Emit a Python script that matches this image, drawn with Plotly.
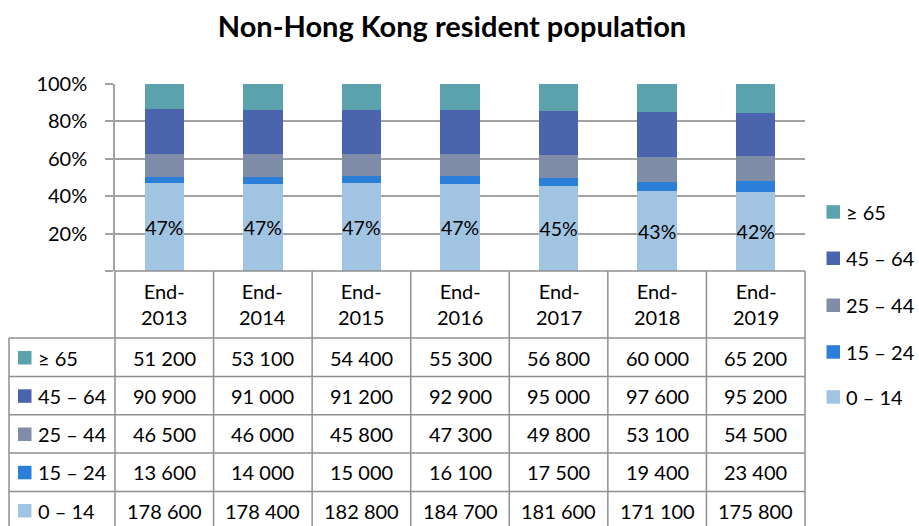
import plotly.graph_objects as go

categories = ["End-2013", "End-2014", "End-2015", "End-2016", "End-2017", "End-2018", "End-2019"]
age_0_14 = [178600, 178400, 182800, 184700, 181600, 171100, 175800]
age_15_24 = [13600, 14000, 15000, 16100, 17500, 19400, 23400]
age_25_44 = [46500, 46000, 45800, 47300, 49800, 53100, 54500]
age_45_64 = [90900, 91000, 91200, 92900, 95000, 97600, 95200]
age_65_up = [51200, 53100, 54400, 55300, 56800, 60000, 65200]

series_names = ["0 – 14", "15 – 24", "25 – 44", "45 – 64", "≥ 65"]
series_values = [age_0_14, age_15_24, age_25_44, age_45_64, age_65_up]
series_colors = ["#A2C4E3", "#2B7FD8", "#7F8DA8", "#4A64AD", "#5BA2AD"]
y_tick_vals = [0, 20, 40, 60, 80, 100]
y_tick_text = ["", "20%", "40%", "60%", "80%", "100%"]

W, H = 919, 526
L, R, T, B = 115, 805, 84, 271
PW, PH = R - L, B - T
FONT = "Lato, Carlito, Calibri, sans-serif"
FS = 20
LINE = "#8f8f8f"


def xp(px):
    return (px - L) / PW


def yp(py):
    return (B - py) / PH


totals = [sum(v[i] for v in series_values) for i in range(len(categories))]

fig = go.Figure()
for name, vals, col in zip(series_names, series_values, series_colors):
    if name == "0 – 14":
        text = [f"{round(v / t * 100):d}%" for v, t in zip(vals, totals)]
    else:
        text = None
    fig.add_trace(go.Bar(
        x=categories, y=vals, name=name, marker=dict(color=col, line=dict(width=0)),
        text=text, textposition="inside" if text else "none", insidetextanchor="middle",
        textangle=0, constraintext="none",
        textfont=dict(family=FONT, size=19.5, color="#000000"),
        showlegend=False, hoverinfo="x+y+name",
    ))

fig.update_layout(
    barmode="stack", barnorm="percent", bargap=0.6,
    width=W, height=H,
    margin=dict(l=L, r=W - R, t=T, b=H - B, pad=0),
    plot_bgcolor="white", paper_bgcolor="white",
    font=dict(family=FONT, size=FS, color="#000000"),
    title=dict(text="<b>Non-Hong Kong resident population</b>", x=452 / W, xanchor="center",
               y=1 - 27 / H, yanchor="middle", font=dict(size=29, family=FONT, color="#000000")),
    xaxis=dict(showticklabels=False, showgrid=False, ticks="", showline=False, zeroline=False,
               range=[-0.5, len(categories) - 0.5]),
    yaxis=dict(range=[0, 100], tickvals=y_tick_vals, ticktext=y_tick_text, showgrid=True,
               gridcolor="#a3a3a3", gridwidth=1.5, ticks="outside", ticklen=8, tickcolor="#a3a3a3",
               tickwidth=1.5, showline=True, linecolor="#a3a3a3", linewidth=1.5, zeroline=False,
               ticklabelstandoff=14, tickfont=dict(size=FS, family=FONT)),
)

shapes = []
annotations = []

# table grid
row_lines = [338, 376.5, 414.8, 453.1, 491.4, 530]
col_lines = [L + i * PW / len(categories) for i in range(len(categories) + 1)]
shapes.append(dict(type="line", xref="paper", yref="paper", x0=0, x1=1, y0=yp(B), y1=yp(B),
                   line=dict(color=LINE, width=1.5)))
for ry in row_lines:
    shapes.append(dict(type="line", xref="paper", yref="paper", x0=xp(9), x1=1, y0=yp(ry), y1=yp(ry),
                       line=dict(color=LINE, width=1.5)))
for cx in col_lines:
    shapes.append(dict(type="line", xref="paper", yref="paper", x0=xp(cx), x1=xp(cx), y0=yp(B), y1=yp(540),
                       line=dict(color=LINE, width=1.5)))
shapes.append(dict(type="line", xref="paper", yref="paper", x0=xp(9), x1=xp(9), y0=yp(338), y1=yp(540),
                   line=dict(color=LINE, width=1.5)))

# header labels
for c in categories:
    a, b = c.split("-")
    annotations.append(dict(x=c, xref="x", y=yp(304), yref="paper", text=f"{a}-<br>{b}",
                            showarrow=False, xanchor="center", yanchor="middle",
                            font=dict(size=FS, family=FONT)))

# table rows (top: >=65 ... bottom: 0-14)
row_centers = [357.5, 395.8, 434, 472.3, 510.5]
order = list(range(len(series_names)))[::-1]
for rc, si in zip(row_centers, order):
    shapes.append(dict(type="rect", xref="paper", yref="paper", x0=xp(18), x1=xp(31.5),
                       y0=yp(rc + 7), y1=yp(rc - 6.5), fillcolor=series_colors[si], line=dict(width=0)))
    annotations.append(dict(x=xp(36), xref="paper", y=yp(rc), yref="paper", text=series_names[si],
                            showarrow=False, xanchor="left", yanchor="middle",
                            font=dict(size=FS, family=FONT)))
    for c, v in zip(categories, series_values[si]):
        annotations.append(dict(x=c, xref="x", y=yp(rc), yref="paper",
                                text=f"{v:,}".replace(",", " "), showarrow=False,
                                xanchor="center", yanchor="middle", font=dict(size=FS, family=FONT)))

# right legend
leg_centers = [211.7, 258, 305, 351.7, 396.7]
for lc, si in zip(leg_centers, order):
    shapes.append(dict(type="rect", xref="paper", yref="paper", x0=xp(826.5), x1=xp(840),
                       y0=yp(lc + 7), y1=yp(lc - 6.5), fillcolor=series_colors[si], line=dict(width=0)))
    annotations.append(dict(x=xp(844), xref="paper", y=yp(lc), yref="paper", text=series_names[si],
                            showarrow=False, xanchor="left", yanchor="middle",
                            font=dict(size=FS, family=FONT)))

fig.update_layout(shapes=shapes, annotations=annotations)
fig.write_html("out.html", config={"displayModeBar": False},
               post_script="document.body.style.margin='0px';document.body.style.overflow='hidden';")
